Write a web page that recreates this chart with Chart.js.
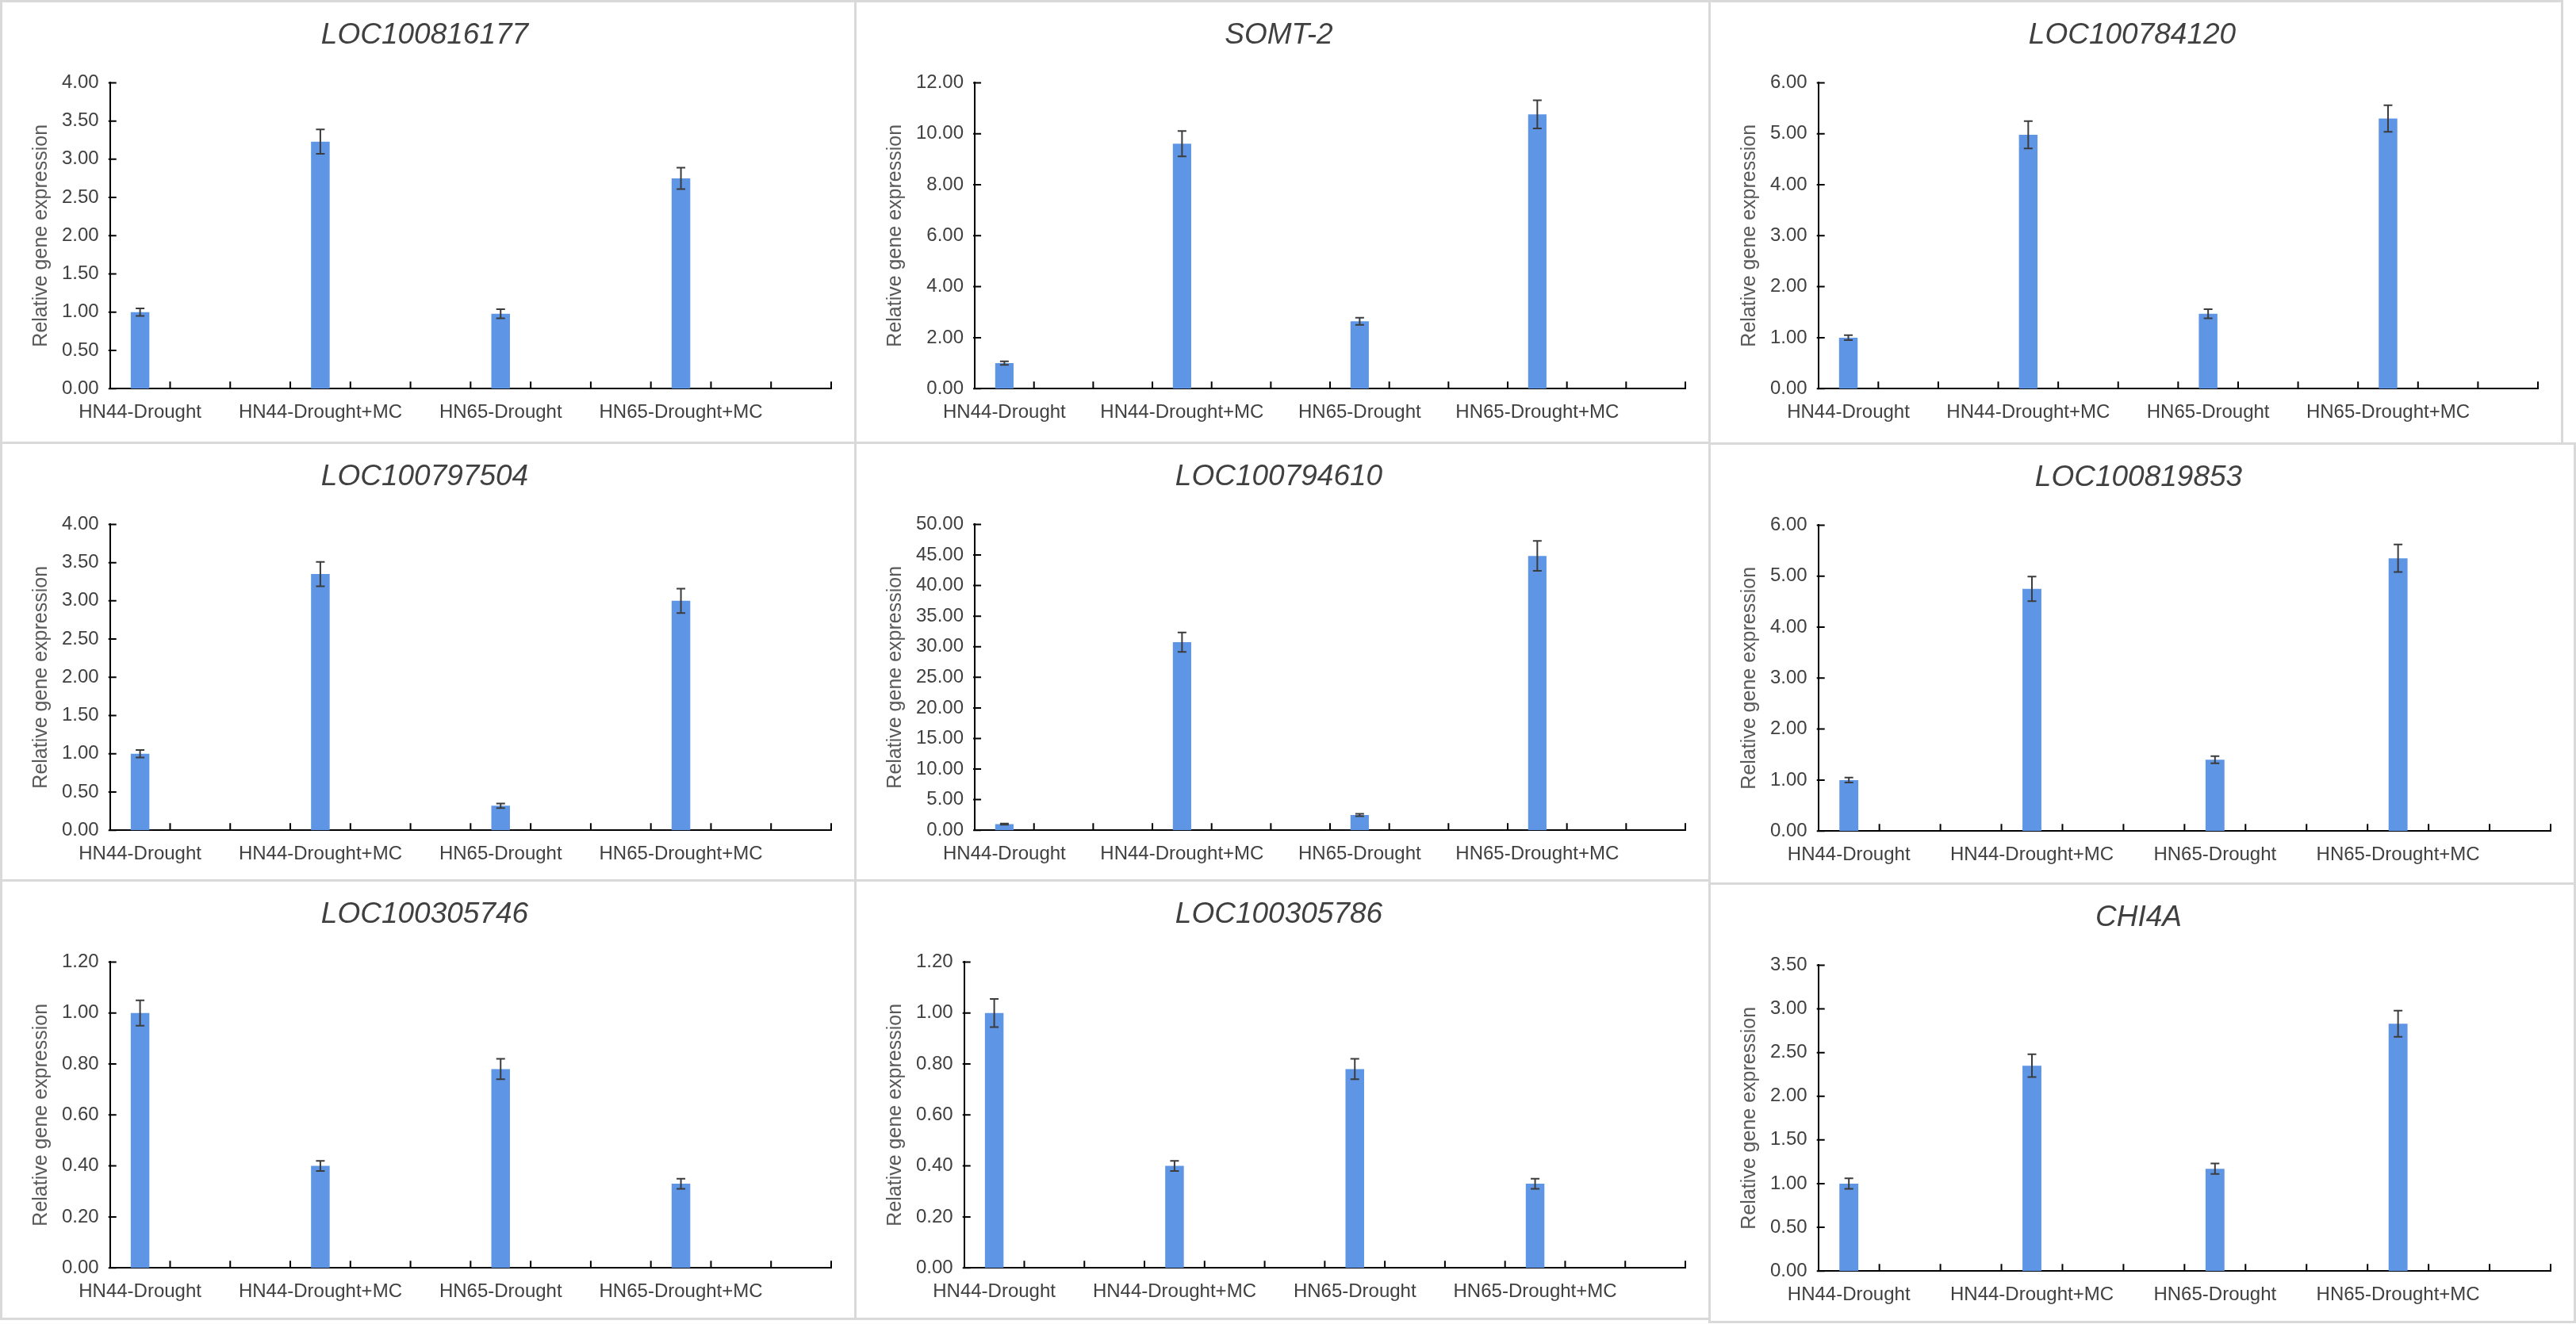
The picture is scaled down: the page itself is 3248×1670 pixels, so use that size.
<!DOCTYPE html>
<html>
<head>
<meta charset="utf-8">
<script src="https://cdn.jsdelivr.net/npm/chart.js@4.4.0/dist/chart.umd.min.js"></script>
<style>
  html, body { margin: 0; padding: 0; background: #fff; width: 3248px; height: 1670px; overflow: hidden; }
  .cell { position: absolute; box-sizing: border-box; border: 3px solid #d9d9d9; background: #fff; }
  .cell canvas { display: block; }
</style>
</head>
<body>
<script>
// groups on the x axis
const groups = ["HN44-Drought", "HN44-Drought+MC", "HN65-Drought", "HN65-Drought+MC"];

// gene names (panel titles), left to right, top to bottom
const genes = ["LOC100816177", "SOMT-2", "LOC100784120",
               "LOC100797504", "LOC100794610", "LOC100819853",
               "LOC100305746", "LOC100305786", "CHI4A"];

// means and error bars
const mean1 = [1.00, 3.23, 0.98, 2.75];   const err1 = [0.05, 0.16, 0.06, 0.14];
const mean2 = [1.00, 9.61, 2.64, 10.76];  const err2 = [0.07, 0.50, 0.14, 0.55];
const mean3 = [1.00, 4.98, 1.47, 5.30];   const err3 = [0.05, 0.27, 0.09, 0.26];
const mean4 = [1.00, 3.35, 0.32, 3.00];   const err4 = [0.05, 0.16, 0.03, 0.16];
const mean5 = [1.00, 30.74, 2.49, 44.84]; const err5 = [0.10, 1.60, 0.19, 2.45];
const mean6 = [1.00, 4.75, 1.40, 5.35];   const err6 = [0.05, 0.24, 0.07, 0.27];
const mean7 = [1.00, 0.40, 0.78, 0.33];   const err7 = [0.05, 0.02, 0.04, 0.02];
const mean8 = [1.00, 0.40, 0.78, 0.33];   const err8 = [0.055, 0.02, 0.04, 0.02];
const mean9 = [1.00, 2.35, 1.17, 2.83];   const err9 = [0.06, 0.13, 0.06, 0.15];

const means = [mean1, mean2, mean3, mean4, mean5, mean6, mean7, mean8, mean9];
const errs = [err1, err2, err3, err4, err5, err6, err7, err8, err9];

// y axis ranges
const yMax = [4, 12, 6, 4, 50, 6, 1.2, 1.2, 3.5];
const yStep = [0.5, 2, 1, 0.5, 5, 1, 0.2, 0.2, 0.5];

// panel boxes: left, top, width, height
const boxes = [
  [0, 0, 1077, 557], [1077, 0, 1077, 557], [2154, 0, 1075, 558],
  [0, 557, 1077, 552], [1077, 557, 1077, 552], [2154, 558, 1091, 555],
  [0, 1109, 1077, 553], [1077, 1109, 1077, 553], [2154, 1113, 1091, 553]
];

const FONT = "'Liberation Sans', Arial, sans-serif";
const BLUE = "#5e95e4";

// each group sits in its own slot followed by two empty slots (Excel-style spacing)
const slots = [];
groups.forEach(g => slots.push(g, "", ""));

// error bars and inside tick marks
const excelBits = {
  id: "excelBits",
  afterDatasetsDraw(chart, args, opts) {
    const { ctx } = chart;
    const x = chart.scales.x, y = chart.scales.y;
    const meta = chart.getDatasetMeta(0);
    ctx.save();
    ctx.lineWidth = 2;
    ctx.strokeStyle = "#3c3c3c";
    opts.mean.forEach((m, i) => {
      const bar = meta.data[i * 3];
      const e = opts.err[i];
      const yt = y.getPixelForValue(m + e);
      const yb = y.getPixelForValue(m - e);
      ctx.beginPath();
      ctx.moveTo(bar.x, yt); ctx.lineTo(bar.x, yb);
      ctx.moveTo(bar.x - 5.5, yt); ctx.lineTo(bar.x + 5.5, yt);
      ctx.moveTo(bar.x - 5.5, yb); ctx.lineTo(bar.x + 5.5, yb);
      ctx.stroke();
    });
    ctx.strokeStyle = "#000";
    ctx.beginPath();
    y.ticks.forEach((t, i) => {
      const py = y.getPixelForTick(i);
      ctx.moveTo(x.left - 2, py); ctx.lineTo(x.left + 8, py);
    });
    const n = x.ticks.length;
    for (let i = 1; i <= n; i++) {
      const px = i < n ? (x.getPixelForValue(i - 1) + x.getPixelForValue(i)) / 2 : x.right;
      ctx.moveTo(px, y.bottom); ctx.lineTo(px, y.bottom - 9);
    }
    ctx.stroke();
    ctx.restore();
  }
};

genes.forEach((gene, k) => {
  const [l, t, w, h] = boxes[k];
  const cell = document.createElement("div");
  cell.className = "cell";
  cell.style.left = l + "px";
  cell.style.top = t + "px";
  cell.style.width = (w + 3) + "px";
  cell.style.height = (h + 3) + "px";
  document.body.appendChild(cell);
  const canvas = document.createElement("canvas");
  cell.appendChild(canvas);
  const ch = h - 3;

  const vals = [];
  means[k].forEach(v => vals.push(v, null, null));

  new Chart(canvas.getContext("2d"), {
    type: "bar",
    data: {
      labels: slots,
      datasets: [{
        data: vals,
        backgroundColor: BLUE,
        borderWidth: 0,
        barPercentage: 0.31,
        categoryPercentage: 1.0
      }]
    },
    options: {
      responsive: true,
      maintainAspectRatio: false,
      animation: false,
      layout: { padding: { top: 4, left: 20, right: 29, bottom: Math.max(ch - 548, 0) } },
      plugins: {
        legend: { display: false },
        tooltip: { enabled: false },
        title: {
          display: true,
          text: gene,
          color: "#404040",
          font: { family: FONT, size: 37, style: "italic", weight: "normal" },
          padding: { top: 16, bottom: 37 }
        },
        excelBits: { mean: means[k], err: errs[k] }
      },
      scales: {
        x: {
          grid: { display: false, drawTicks: false },
          border: { display: true, color: "#000", width: 2 },
          ticks: {
            autoSkip: false, maxRotation: 0, minRotation: 0,
            color: "#404040", padding: 16,
            font: { family: FONT, size: 24 }
          }
        },
        y: {
          min: 0,
          max: yMax[k],
          grid: { display: false, drawTicks: false },
          border: { display: true, color: "#000", width: 2 },
          ticks: {
            stepSize: yStep[k],
            color: "#404040", padding: 14,
            font: { family: FONT, size: 24 },
            callback: v => Number(v).toFixed(2)
          },
          title: {
            display: true,
            text: "Relative gene expression",
            color: "#595959",
            font: { family: FONT, size: 25 },
            padding: { top: 14, bottom: -3 }
          }
        }
      }
    },
    plugins: [excelBits]
  });
});
</script>
</body>
</html>
